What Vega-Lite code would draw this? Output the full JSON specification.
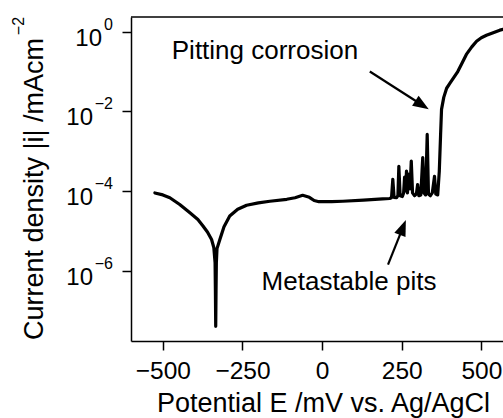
{
  "$schema": "https://vega.github.io/schema/vega-lite/v6.json",
  "width": 372,
  "height": 324,
  "autosize": {"type": "none"},
  "padding": {"left": 131, "top": 17, "right": 0, "bottom": 77},
  "background": "white",
  "config": {"view": {"stroke": null}, "font": "Liberation Sans"},
  "datasets": {
    "curve": [
      {"E": -525, "i": 8.91e-5}, {"E": -500, "i": 7.94e-5}, {"E": -478, "i": 6.76e-5},
      {"E": -447, "i": 4.57e-5}, {"E": -415, "i": 2.82e-5}, {"E": -390, "i": 1.91e-5},
      {"E": -374, "i": 1.32e-5}, {"E": -360, "i": 9.33e-6}, {"E": -347, "i": 6.03e-6},
      {"E": -340, "i": 3.80e-6}, {"E": -336, "i": 1.58e-6}, {"E": -335, "i": 3.16e-7},
      {"E": -334, "i": 3.98e-8}, {"E": -333, "i": 3.16e-7}, {"E": -332, "i": 1.58e-6},
      {"E": -330, "i": 3.55e-6}, {"E": -321, "i": 6.03e-6}, {"E": -308, "i": 1.26e-5},
      {"E": -290, "i": 2.34e-5}, {"E": -265, "i": 3.47e-5}, {"E": -237, "i": 4.37e-5},
      {"E": -200, "i": 5.01e-5}, {"E": -164, "i": 5.50e-5}, {"E": -111, "i": 6.17e-5},
      {"E": -85, "i": 6.76e-5}, {"E": -61, "i": 7.76e-5}, {"E": -40, "i": 6.92e-5},
      {"E": -25, "i": 5.75e-5}, {"E": -10, "i": 5.37e-5}, {"E": 30, "i": 5.37e-5},
      {"E": 65, "i": 5.50e-5}, {"E": 130, "i": 5.89e-5}, {"E": 190, "i": 6.31e-5},
      {"E": 212, "i": 6.46e-5}, {"E": 218, "i": 6.76e-5}, {"E": 222, "i": 1.95e-4},
      {"E": 226, "i": 6.92e-5}, {"E": 234, "i": 6.76e-5}, {"E": 238, "i": 7.59e-5},
      {"E": 241, "i": 4.17e-4}, {"E": 245, "i": 7.59e-5}, {"E": 252, "i": 7.24e-5},
      {"E": 256, "i": 8.91e-5}, {"E": 259, "i": 2.24e-4}, {"E": 262, "i": 1.0e-4},
      {"E": 265, "i": 3.16e-4}, {"E": 268, "i": 8.91e-5}, {"E": 272, "i": 2.63e-4},
      {"E": 276, "i": 1.12e-4}, {"E": 280, "i": 5.62e-4}, {"E": 284, "i": 8.91e-5},
      {"E": 290, "i": 7.59e-5}, {"E": 296, "i": 8.32e-5}, {"E": 300, "i": 1.45e-4},
      {"E": 304, "i": 7.59e-5}, {"E": 310, "i": 7.94e-5}, {"E": 316, "i": 6.92e-4},
      {"E": 320, "i": 8.91e-5}, {"E": 325, "i": 7.94e-5}, {"E": 330, "i": 2.63e-3},
      {"E": 334, "i": 8.32e-5}, {"E": 340, "i": 7.59e-5}, {"E": 346, "i": 8.91e-5},
      {"E": 353, "i": 2.34e-4}, {"E": 357, "i": 8.32e-5}, {"E": 363, "i": 7.94e-5},
      {"E": 368, "i": 3.16e-4}, {"E": 372, "i": 2.51e-3}, {"E": 375, "i": 1.12e-2},
      {"E": 382, "i": 2.24e-2}, {"E": 391, "i": 3.80e-2}, {"E": 401, "i": 5.01e-2},
      {"E": 426, "i": 0.1}, {"E": 440, "i": 0.166}, {"E": 453, "i": 0.269},
      {"E": 470, "i": 0.417}, {"E": 485, "i": 0.575}, {"E": 500, "i": 0.708},
      {"E": 516, "i": 0.813}, {"E": 535, "i": 0.933}, {"E": 558, "i": 1.096},
      {"E": 568, "i": 1.148}
    ],
    "yt": [
      {"v": 1, "exp": "0"},
      {"v": 0.01, "exp": "−2"},
      {"v": 0.0001, "exp": "−4"},
      {"v": 0.000001, "exp": "−6"}
    ],
    "notes": [
      {"E": -472, "i": 0.201, "label": "Pitting corrosion"},
      {"E": -190, "i": 3.22e-7, "label": "Metastable pits"}
    ],
    "arrows": [
      {"a": "pit", "E1": 149.8, "i1": 0.1, "E2": 313.9, "i2": 0.01445, "Et": 335, "it": 0.01122},
      {"a": "meta", "E1": 207, "i1": 1.41e-6, "E2": 253.5, "i2": 1.2e-5, "Et": 263, "it": 1.86e-5}
    ]
  },
  "layer": [
    {
      "data": {"name": "curve"},
      "mark": {"type": "line", "color": "black", "strokeWidth": 3.2, "strokeJoin": "round", "strokeCap": "round"},
      "encoding": {
        "x": {
          "field": "E", "type": "quantitative",
          "scale": {"domain": [-600, 568], "nice": false, "zero": false},
          "axis": {
            "orient": "bottom", "values": [-500, -250, 0, 250, 500], "grid": false,
            "labelFont": "Liberation Sans", "labelFontSize": 24.5, "labelColor": "black",
            "labelPadding": 9, "labelFlush": false, "labelOverlap": false,
            "tickSize": 9, "tickWidth": 1.5, "tickColor": "black",
            "domainColor": "black", "domainWidth": 1.5,
            "title": "Potential E /mV vs. Ag/AgCl", "titleFont": "Liberation Sans",
            "titleFontSize": 27, "titleFontWeight": "normal", "titleColor": "black",
            "titleX": 192, "titleY": 70, "titleAlign": "center", "titleBaseline": "alphabetic"
          }
        },
        "y": {
          "field": "i", "type": "quantitative",
          "scale": {"type": "log", "domain": [1.698e-8, 2.344], "nice": false},
          "axis": {
            "orient": "left", "values": [1, 0.01, 0.0001, 0.000001], "grid": false,
            "labels": false, "tickSize": 9, "tickWidth": 1.5, "tickColor": "black",
            "domainColor": "black", "domainWidth": 1.5,
            "title": "Current density |i| /mAcm", "titleFont": "Liberation Sans",
            "titleFontSize": 27, "titleFontWeight": "normal", "titleColor": "black",
            "titleAngle": 270, "titleX": -89, "titleY": 171.5, "titleAlign": "center",
            "titleBaseline": "alphabetic"
          }
        }
      }
    },
    {
      "data": {"values": [{}]},
      "mark": {"type": "rule", "color": "black", "strokeWidth": 1.5},
      "encoding": {"y": {"datum": 2.344}}
    },
    {
      "data": {"name": "yt"},
      "transform": [{"filter": "datum.v == 1"}],
      "mark": {"type": "text", "text": "10", "align": "right", "baseline": "middle", "dx": -29, "dy": 7, "fontSize": 24, "font": "Liberation Sans", "color": "black"},
      "encoding": {"x": {"datum": -600}, "y": {"field": "v", "type": "quantitative"}}
    },
    {
      "data": {"name": "yt"},
      "transform": [{"filter": "datum.v < 1"}],
      "mark": {"type": "text", "text": "10", "align": "right", "baseline": "middle", "dx": -38, "dy": 7, "fontSize": 24, "font": "Liberation Sans", "color": "black"},
      "encoding": {"x": {"datum": -600}, "y": {"field": "v", "type": "quantitative"}}
    },
    {
      "data": {"name": "yt"},
      "mark": {"type": "text", "align": "right", "baseline": "middle", "dx": -18, "dy": -7, "fontSize": 16, "font": "Liberation Sans", "color": "black"},
      "encoding": {"x": {"datum": -600}, "y": {"field": "v", "type": "quantitative"}, "text": {"field": "exp"}}
    },
    {
      "data": {"values": [{}]},
      "mark": {"type": "text", "text": "−2", "angle": 270, "align": "center", "baseline": "middle", "dx": -9, "dy": -112, "fontSize": 16, "font": "Liberation Sans", "color": "black"},
      "encoding": {"x": {"datum": -600}, "y": {"datum": 2.344}}
    },
    {
      "data": {"name": "notes"},
      "mark": {"type": "text", "align": "left", "baseline": "alphabetic", "fontSize": 26, "font": "Liberation Sans", "color": "black"},
      "encoding": {
        "x": {"field": "E", "type": "quantitative"},
        "y": {"field": "i", "type": "quantitative"},
        "text": {"field": "label"}
      }
    },
    {
      "data": {"name": "arrows"},
      "mark": {"type": "rule", "color": "black", "strokeWidth": 2.2},
      "encoding": {
        "x": {"field": "E1", "type": "quantitative"},
        "y": {"field": "i1", "type": "quantitative"},
        "x2": {"field": "E2"},
        "y2": {"field": "i2"}
      }
    },
    {
      "data": {"name": "arrows"},
      "transform": [{"filter": "datum.a == 'pit'"}],
      "mark": {"type": "point", "shape": "M0,0L-0.75,2L0.75,2Z", "filled": true, "opacity": 1, "size": 256, "angle": 122.8, "color": "black"},
      "encoding": {
        "x": {"field": "Et", "type": "quantitative"},
        "y": {"field": "it", "type": "quantitative"}
      }
    },
    {
      "data": {"name": "arrows"},
      "transform": [{"filter": "datum.a == 'meta'"}],
      "mark": {"type": "point", "shape": "M0,0L-0.75,2L0.75,2Z", "filled": true, "opacity": 1, "size": 256, "angle": 21.8, "color": "black"},
      "encoding": {
        "x": {"field": "Et", "type": "quantitative"},
        "y": {"field": "it", "type": "quantitative"}
      }
    }
  ]
}
